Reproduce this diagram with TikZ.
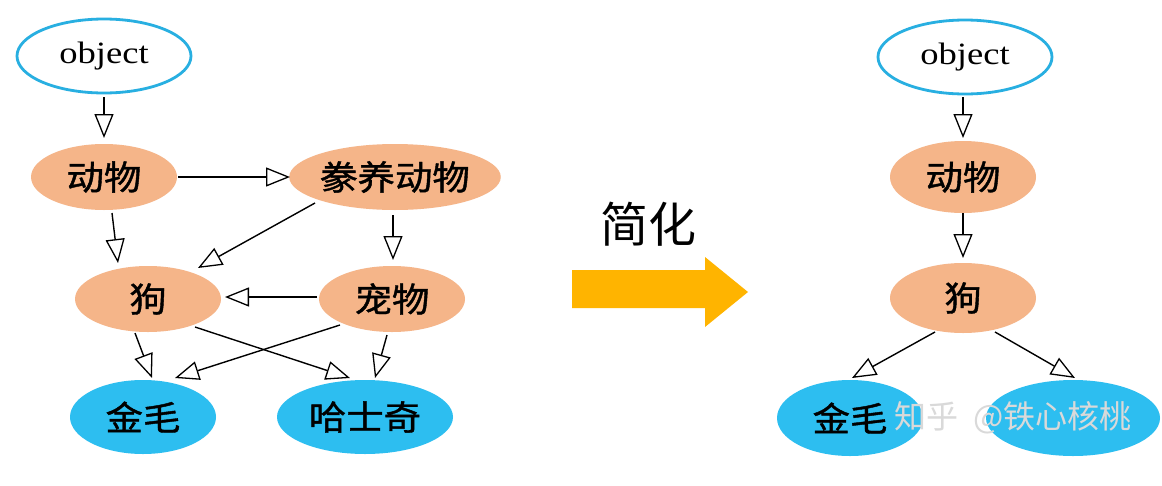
\documentclass[tikz,border=0pt]{standalone}
\usepackage{fontspec}
\setmainfont{Liberation Serif}[FakeStretch=1.18]
\newfontfamily\cjk{Noto Sans CJK SC}[FakeStretch=1.1, FakeBold=1.2]
\newfontfamily\cjkplain{Noto Sans CJK SC}
\usetikzlibrary{shapes.geometric,arrows.meta,calc}
\definecolor{peach}{RGB}{245,181,137}
\definecolor{skyfill}{RGB}{45,190,240}
\definecolor{skyline}{RGB}{40,175,225}
\definecolor{bigarrow}{RGB}{255,180,0}
\tikzset{
  basenode/.style={ellipse, inner sep=0pt, text=black},
  objnode/.style={basenode, draw=skyline, line width=2.8pt, fill=white,
    minimum width=174, minimum height=74, font=\fontsize{31}{36}\selectfont},
  midnode/.style={basenode, fill=peach, minimum height=66, font=\cjk\fontsize{34}{40}\selectfont},
  leafnode/.style={basenode, fill=skyfill, minimum height=74, font=\cjk\fontsize{34}{40}\selectfont},
  link/.style={draw=black, line width=1.4pt,
    -{Triangle[open, length=24pt, width=19pt, line width=1.3pt]}},
  wmark/.style={text=black!15, font=\cjkplain\fontsize{32}{38}\selectfont},
}
\begin{document}
\begin{tikzpicture}[x=1pt,y=-1pt]
\useasboundingbox[fill=white] (0,0) rectangle (1162,485);
% left graph
\node[objnode] (obj) at (104,56) {object};
\node[midnode, minimum width=146] (dw) at (104,177) {动物};
\node[midnode, minimum width=210] (hy) at (395,177) {豢养动物};
\node[midnode, minimum width=146] (gou) at (148,299) {狗};
\node[midnode, minimum width=146] (cw) at (392,299) {宠物};
\node[leafnode, minimum width=146] (jm) at (143,417) {金毛};
\node[leafnode, minimum width=176] (hsq) at (365,417) {哈士奇};
\draw[link] ($(obj)+(0,41)$) -- ($(dw)+(0,-39)$);
\draw[link] ($(dw)+(74,0)$) -- ($(hy)+(-105,0)$);
\draw[link] ($(dw)+(8,36)$) -- ($(gou)+(-30,-36)$);
\draw[link] ($(hy)+(-80,26)$) -- ($(gou)+(50,-31)$);
\draw[link] ($(hy)+(-2,38)$) -- ($(cw)+(1,-39)$);
\draw[link] ($(cw)+(-75,-2)$) -- ($(gou)+(77,-2)$);
\draw[link] ($(gou)+(-13,34)$) -- ($(jm)+(9,-39)$);
\draw[link] ($(gou)+(47,28)$) -- ($(hsq)+(-15,-39)$);
\draw[link] ($(cw)+(-52,26)$) -- ($(jm)+(32,-39)$);
\draw[link] ($(cw)+(-5,36)$) -- ($(hsq)+(10,-39)$);
% middle
\node[font=\cjkplain\fontsize{48}{56}\selectfont, text=black] (jh) at (648,224) {简化};
\fill[bigarrow] (572,270) -- (705,270) -- (705,257) -- (748,292) -- (705,327) -- (705,308) -- (572,308) -- cycle;
% right graph
\node[objnode] (obj2) at (965,57) {object};
\node[midnode, minimum width=146, minimum height=72] (dw2) at (963,177) {动物};
\node[midnode, minimum width=146, minimum height=70] (gou2) at (963,298) {狗};
\node[leafnode, minimum width=146, minimum height=76] (jm2) at (850,418) {金毛};
\node[leafnode, minimum width=174, minimum height=76] (hsq2) at (1073,418) {};
\draw[link] ($(obj2)+(-2,40)$) -- ($(dw2)+(0,-39)$);
\draw[link] ($(dw2)+(0,36)$) -- ($(gou2)+(0,-40)$);
\draw[link] ($(gou2)+(-28,34)$) -- ($(jm2)+(2,-40)$);
\draw[link] ($(gou2)+(32,34)$) -- ($(hsq2)+(2,-40)$);
\node[wmark] (wm) at (1013,418) {知乎\ \ @铁心核桃};
\end{tikzpicture}
\end{document}
